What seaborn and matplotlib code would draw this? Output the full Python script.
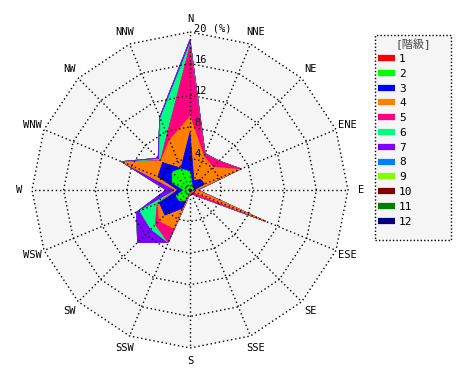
import numpy as np
import matplotlib
matplotlib.use("Agg")
import matplotlib.pyplot as plt
from matplotlib.lines import Line2D
from matplotlib.patches import Rectangle
import seaborn as sns

# ---------------- data ----------------
directions = ['N', 'NNE', 'NE', 'ENE', 'E', 'ESE', 'SE', 'SSE',
              'S', 'SSW', 'SW', 'WSW', 'W', 'WNW', 'NW', 'NNW']
class_labels = ['1', '2', '3', '4', '5', '6', '7', '8', '9', '10', '11', '12']
class1 = [0.1, 0.1, 0.1, 0.1, 0.1, 0.1, 0.1, 0.1, 0.1, 0.1, 0.1, 0.1, 0.1, 0.1, 0.1, 0.1]
class2 = [2.2, 0.6, 0.3, 0.4, 0.2, 0.1, 0.1, 0.1, 0.1, 1.3, 1.8, 1.8, 0.7, 2.3, 3.1, 2.8]
class3 = [5.0, 0.6, 1.5, 1.5, 0.2, 0.1, 0.0, 0.0, 0.1, 1.1, 2.6, 2.3, 0.7, 2.0, 1.7, 0.1]
class4 = [2.0, 3.3, 2.2, 4.8, 0.3, 10.0, 0.0, 0.1, 0.2, 2.8, 1.0, 0.2, 0.3, 4.8, 0.3, 3.8]
class5 = [9.0, 0.3, 1.1, 0.2, 0.2, 0.0, 0.8, 0.2, 0.0, 1.9, 0.7, 0.1, 0.0, 0.0, 0.1, 0.8]
class6 = [0.2, 0.0, 0.0, 0.0, 0.0, 0.0, 0.0, 0.0, 0.0, 0.0, 0.8, 2.4, 0.0, 0.0, 0.2, 2.2]
class7 = [0.5, 0.1, 0.0, 0.0, 0.0, 0.1, 0.0, 0.0, 0.0, 0.0, 2.4, 0.4, 1.2, 0.2, 0.2, 0.2]
class8 = [0.0] * 16
class9 = [0.0] * 16
class10 = [0.0] * 16
class11 = [0.0] * 16
class12 = [0.0] * 16
rings = [4, 8, 12, 16, 20]
ring_labels = ['4', '8', '12', '16', '20 (%)']
legend_title = '[階級]'
class_colors = ['#ff0000', '#00ff00', '#0000ff', '#ff8000', '#ff0080', '#00ff80',
                '#8000ff', '#0080ff', '#80ff00', '#800000', '#008000', '#000080']

# ---------------- style ----------------
sns.set_theme(style="white")
plt.rcParams['font.family'] = ['DejaVu Sans Mono', 'Noto Sans CJK JP']
plt.rcParams['text.color'] = 'black'
palette = sns.color_palette(class_colors)

W_PX, H_PX = 470, 380
CX, CY = 190, 190          # centre in pixels
SCALE = 7.9                # pixels per percent

fig = plt.figure(figsize=(W_PX / 100, H_PX / 100), dpi=100)
ax = fig.add_axes([0, 0, 1, 1])
ax.set_xlim(-CX / SCALE, (W_PX - CX) / SCALE)
ax.set_ylim(-(H_PX - CY) / SCALE, CY / SCALE)
ax.axis('off')

theta = np.deg2rad(np.arange(len(directions)) * 22.5)
sx, sy = np.sin(theta), np.cos(theta)

def poly(r):
    r = np.asarray(r, dtype=float)
    return r * sx, r * sy

# background polygon
bx, by = poly([rings[-1]] * len(directions))
ax.fill(bx, by, color='#f5f5f5', zorder=0, lw=0)

# stacked polygons
classes = [class1, class2, class3, class4, class5, class6, class7,
           class8, class9, class10, class11, class12]
cum = np.cumsum(np.array(classes), axis=0)
for k in range(len(classes) - 1, -1, -1):
    px, py = poly(cum[k])
    ax.fill(px, py, color=palette[k], lw=0.5, ec=palette[k],
            zorder=1 + (len(classes) - k) * 0.01)

# grid
dots = (0, (1, 2))
for rr in rings:
    gx, gy = poly([rr] * len(directions))
    ax.plot(np.append(gx, gx[0]), np.append(gy, gy[0]), color='black', lw=1.0,
            ls=dots, zorder=3)
for i in range(len(directions)):
    ax.plot([0, rings[-1] * sx[i]], [0, rings[-1] * sy[i]], color='black', lw=1.0,
            ls=dots, zorder=3)

# direction labels
LAB_R = 21.6
for i, d in enumerate(directions):
    ax.text(LAB_R * sx[i], LAB_R * sy[i], d, ha='center', va='center',
            fontsize=7.5, color='black', zorder=4)

# ring labels
for rr, lab in zip(rings, ring_labels):
    ax.text(0.55, rr + 0.5, lab, ha='left', va='center', fontsize=7.5,
            color='black', zorder=4)

# legend box
box_l, box_t, box_r, box_b = 375, 35, 451, 240
fig.patches.append(Rectangle((box_l / W_PX, 1 - box_b / H_PX),
                             (box_r - box_l) / W_PX, (box_b - box_t) / H_PX,
                             transform=fig.transFigure, facecolor='#f5f5f5',
                             edgecolor='black', lw=1.0, ls=(0, (1, 1.5)), zorder=-1))
fig.text((box_l + box_r) / 2 / W_PX, 1 - 44.5 / H_PX, legend_title, ha='center',
         va='center', fontsize=8, color='#444444', zorder=5)
handles = [Line2D([0], [0], color=palette[k], lw=4.5, solid_capstyle='butt')
           for k in range(len(classes))]
leg = fig.legend(handles, class_labels, loc='upper left',
                 bbox_to_anchor=(378 / W_PX, 1 - 54 / H_PX), bbox_transform=fig.transFigure,
                 fontsize=8, frameon=False,
                 handlelength=1.55, handletextpad=0.35, labelspacing=0.43,
                 borderpad=0.0, borderaxespad=0)
leg.set_zorder(5)

fig.savefig('out.png', dpi=100)
